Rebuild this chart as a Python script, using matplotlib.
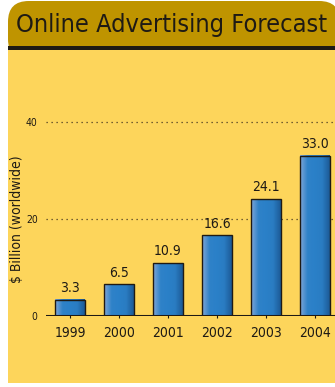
import numpy as np
import matplotlib.pyplot as plt
from matplotlib.patches import FancyBboxPatch, Rectangle
from matplotlib.colors import LinearSegmentedColormap

years = ['1999', '2000', '2001', '2002', '2003', '2004']
spend = [3.3, 6.5, 10.9, 16.6, 24.1, 33.0]
yticks = [0, 20, 40]

FONT = dict(family='DejaVu Sans', stretch='condensed')

W, H = 335, 387
fig = plt.figure(figsize=(W / 100, H / 100), dpi=100)
fig.patch.set_facecolor('white')

def fx(px):
    return px / W

def fy(py):
    return 1 - py / H

# yellow panel and gold header
fig.patches.append(Rectangle((fx(8), fy(383)), fx(335) - fx(8), fy(50) - fy(383),
                             transform=fig.transFigure, facecolor='#fdd55b',
                             edgecolor='none', zorder=-3))
fig.patches.append(FancyBboxPatch((fx(8), fy(60)), fx(340) - fx(8), fy(1) - fy(60),
                                  boxstyle='round,pad=0,rounding_size=0.062',
                                  transform=fig.transFigure, facecolor='#bf9400',
                                  edgecolor='none', zorder=-3, mutation_aspect=W / H))
fig.patches.append(Rectangle((fx(8), fy(50)), fx(335) - fx(8), fy(46) - fy(50),
                             transform=fig.transFigure, facecolor='#1e1a14',
                             edgecolor='none', zorder=-2))
fig.patches.append(Rectangle((fx(8), fy(60)), fx(335) - fx(8), fy(50) - fy(60),
                             transform=fig.transFigure, facecolor='#fdd55b',
                             edgecolor='none', zorder=-2))
fig.text(fx(16), fy(25), 'Online Advertising Forecast', fontsize=18.2,
         color='#1e1a14', va='center', ha='left', **FONT)

ax = fig.add_axes([fx(46), fy(316), 1 - fx(46), fy(97.75) - fy(316)])
ax.set_facecolor('none')
x = np.arange(len(years))
ax.set_xlim((46 - 70) / 49, (335 - 70) / 49)
ax.set_ylim(0, 45)

# bars with a light-to-dark horizontal shading
cmap = LinearSegmentedColormap.from_list('bar', ['#7fa6d8', '#2f82c8', '#2a80c8', '#2a7cc2', '#1c5a96'])
grad = np.linspace(0, 1, 64).reshape(1, -1)
w = 0.61
for xi, v in zip(x, spend):
    ax.imshow(grad, cmap=cmap, aspect='auto', extent=(xi - w / 2, xi + w / 2, 0, v), zorder=2)
bars = ax.bar(x, spend, width=w, facecolor='none', edgecolor='#1e1a14', linewidth=1.0, zorder=3)
for xi, v in zip(x, spend):
    ax.text(xi, v + 1.0, f'{v:.1f}', ha='center', va='bottom', fontsize=10,
            color='#1e1a14', **FONT)

for t in yticks[1:]:
    ax.axhline(t, color='#4a3a20', linestyle=(0, (1, 3)), linewidth=0.9, zorder=1)
ax.axhline(0, color='#1e1a14', linewidth=2.2, zorder=4)

ax.set_xticks(x)
ax.set_xticklabels(years, fontsize=10, color='#1e1a14', **FONT)
ax.set_yticks(yticks)
ax.set_yticklabels([str(t) for t in yticks], fontsize=7.5, color='#1e1a14', **FONT)
ax.tick_params(axis='x', length=3, width=0.8, color='#1e1a14', pad=6, direction='inout')
ax.tick_params(axis='y', length=0, pad=6)
for s in ax.spines.values():
    s.set_visible(False)

fig.text(fx(17), fy(219), '$ Billion (worldwide)', rotation=90, fontsize=10,
         color='#1e1a14', ha='center', va='center', **FONT)

fig.savefig('out.png', dpi=100)
